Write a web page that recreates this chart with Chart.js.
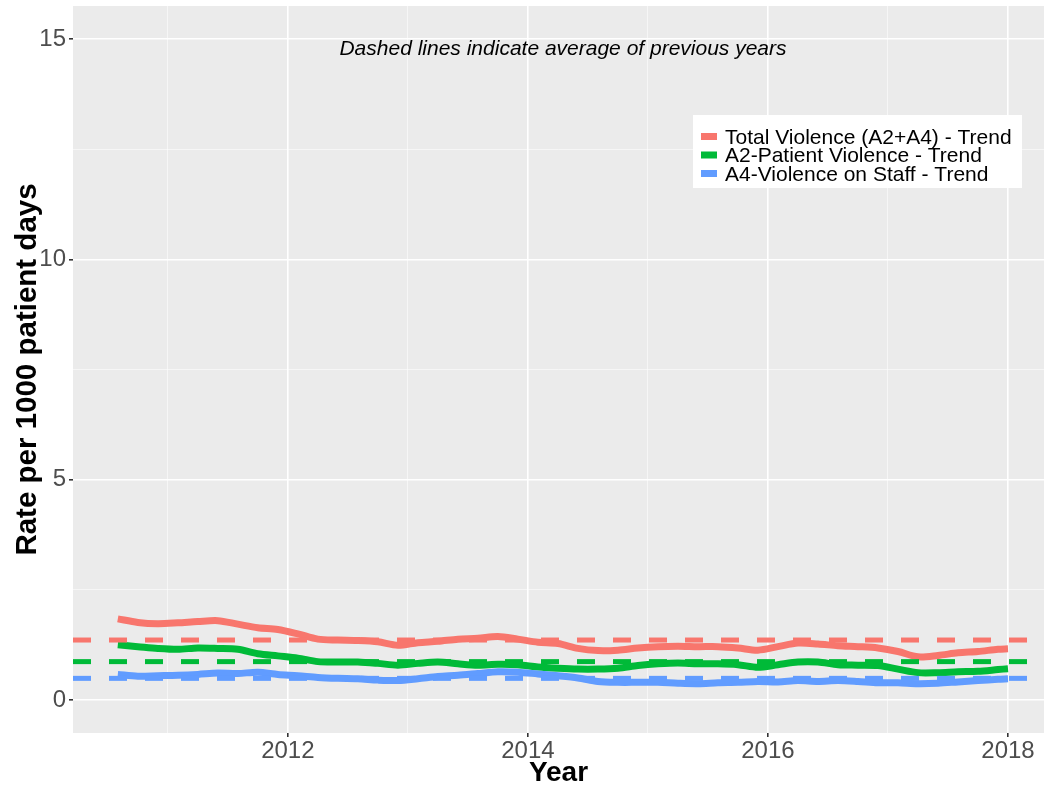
<!DOCTYPE html>
<html>
<head>
<meta charset="utf-8">
<script src="https://cdn.jsdelivr.net/npm/chart.js@4.4.1/dist/chart.umd.min.js"></script>
<style>
  html, body { margin: 0; padding: 0; background: #fff; }
  #wrap { width: 1044px; height: 788px; position: relative; }
</style>
</head>
<body>
<div id="wrap"><canvas id="chart"></canvas></div>
<script>
  'use strict';

  // sampled every two months, last point Jan 2018
  const months = [
    '2010-08', '2010-10', '2010-12', '2011-02', '2011-04', '2011-06',
    '2011-08', '2011-10', '2011-12', '2012-02', '2012-04', '2012-06',
    '2012-08', '2012-10', '2012-12', '2013-02', '2013-04', '2013-06',
    '2013-08', '2013-10', '2013-12', '2014-02', '2014-04', '2014-06',
    '2014-08', '2014-10', '2014-12', '2015-02', '2015-04', '2015-06',
    '2015-08', '2015-10', '2015-12', '2016-02', '2016-04', '2016-06',
    '2016-08', '2016-10', '2016-12', '2017-02', '2017-04', '2017-06',
    '2017-08', '2017-10', '2017-12', '2018-01'
  ];

  const totalTrend = [
    1.84, 1.76, 1.73, 1.75, 1.78, 1.80,
    1.72, 1.64, 1.60, 1.50, 1.38, 1.36,
    1.35, 1.32, 1.24, 1.30, 1.33, 1.38,
    1.40, 1.44, 1.38, 1.31, 1.28, 1.17,
    1.12, 1.13, 1.18, 1.21, 1.22, 1.21,
    1.21, 1.18, 1.13, 1.21, 1.29, 1.27,
    1.23, 1.21, 1.18, 1.10, 0.98, 1.01,
    1.07, 1.10, 1.15, 1.16
  ];

  const patientTrend = [
    1.25, 1.21, 1.17, 1.15, 1.18, 1.17,
    1.15, 1.05, 1.00, 0.95, 0.87, 0.86,
    0.86, 0.83, 0.79, 0.83, 0.86, 0.82,
    0.79, 0.81, 0.80, 0.75, 0.72, 0.70,
    0.70, 0.72, 0.78, 0.82, 0.84, 0.82,
    0.82, 0.80, 0.74, 0.80, 0.86, 0.86,
    0.80, 0.79, 0.78, 0.70, 0.62, 0.62,
    0.64, 0.65, 0.69, 0.71
  ];

  const staffTrend = [
    0.58, 0.54, 0.55, 0.56, 0.58, 0.61,
    0.60, 0.63, 0.58, 0.55, 0.51, 0.49,
    0.48, 0.45, 0.44, 0.48, 0.53, 0.56,
    0.60, 0.64, 0.63, 0.59, 0.55, 0.50,
    0.42, 0.40, 0.40, 0.40, 0.38, 0.37,
    0.39, 0.40, 0.42, 0.41, 0.44, 0.42,
    0.44, 0.42, 0.39, 0.39, 0.37, 0.38,
    0.41, 0.44, 0.47, 0.48
  ];

  // averages of previous years (dashed reference lines)
  const averages = [1.36, 0.87, 0.49];

  const seriesLabels = [
    'Total Violence (A2+A4) - Trend',
    'A2-Patient Violence - Trend',
    'A4-Violence on Staff - Trend'
  ];
  const seriesColors = ['#F8766D', '#00BA38', '#619CFF'];

  const yTicks = [0, 5, 10, 15];
  const yMinor = [2.5, 7.5, 12.5];
  const xTicks = [2012, 2014, 2016, 2018];
  const xMinor = [2011, 2013, 2015, 2017];

  const X_MIN = 2010.21;
  const X_MAX = 2018.3;
  const Y_MIN = -0.75;
  const Y_MAX = 15.75;

  const FONT = '"Liberation Sans", Arial, Helvetica, sans-serif';

  const toYear = m => {
    const [y, mo] = m.split('-').map(Number);
    return y + (mo - 1) / 12;
  };

  const points = values => months.map((m, i) => ({ x: toYear(m), y: values[i] }));

  const trendSets = [totalTrend, patientTrend, staffTrend].map((values, i) => ({
    label: seriesLabels[i],
    data: points(values),
    borderColor: seriesColors[i],
    borderWidth: 7,
    tension: 0.3,
    pointRadius: 0,
    borderJoinStyle: 'round',
    order: 10 - i
  }));

  const averageSets = averages.map((avg, i) => ({
    label: seriesLabels[i] + ' average',
    data: [{ x: X_MIN, y: avg }, { x: X_MAX, y: avg }],
    borderColor: seriesColors[i],
    borderWidth: 5,
    borderDash: [18, 18],
    pointRadius: 0,
    order: 3 - i
  }));

  const isMajor = (list, ctx) => ctx.tick && list.includes(ctx.tick.value);

  const panelBackground = {
    id: 'panelBackground',
    beforeDraw(chart) {
      const { ctx, chartArea: a } = chart;
      ctx.save();
      ctx.fillStyle = '#EBEBEB';
      ctx.fillRect(a.left, a.top, a.right - a.left, a.bottom - a.top);
      ctx.restore();
    }
  };

  const annotations = {
    id: 'annotations',
    afterDraw(chart) {
      const { ctx } = chart;
      ctx.save();

      // note above the lines
      ctx.fillStyle = '#000';
      ctx.font = 'italic 21px ' + FONT;
      ctx.textAlign = 'center';
      ctx.textBaseline = 'alphabetic';
      ctx.fillText('Dashed lines indicate average of previous years', 563, 55);

      // legend box
      ctx.fillStyle = '#fff';
      ctx.fillRect(693, 115, 329, 73);
      ctx.font = '21px ' + FONT;
      ctx.textAlign = 'left';
      ctx.textBaseline = 'middle';
      seriesLabels.forEach((label, i) => {
        const y = 138 + i * 18.5;
        ctx.fillStyle = seriesColors[i];
        ctx.fillRect(701, y - 5, 16, 7);
        ctx.fillStyle = '#000';
        ctx.fillText(label, 725, y);
      });

      ctx.restore();
    }
  };

  new Chart(document.getElementById('chart'), {
    type: 'line',
    data: { datasets: [...averageSets, ...trendSets] },
    options: {
      responsive: true,
      maintainAspectRatio: false,
      animation: false,
      events: [],
      layout: { padding: { top: 6, right: 0, left: 0, bottom: 0 } },
      plugins: {
        legend: { display: false },
        tooltip: { enabled: false }
      },
      scales: {
        x: {
          type: 'linear',
          min: X_MIN,
          max: X_MAX,
          afterFit: s => {
            s.height = 55;
            s.paddingLeft = 0;
            s.paddingRight = 0;
          },
          afterBuildTicks: s => {
            s.ticks = [...xMinor, ...xTicks].sort().map(v => ({ value: v }));
          },
          border: { display: false },
          grid: {
            color: ctx => isMajor(xTicks, ctx) ? '#FFFFFF' : 'rgba(255,255,255,0.6)',
            lineWidth: ctx => isMajor(xTicks, ctx) ? 1.6 : 0.9,
            tickColor: ctx => isMajor(xTicks, ctx) ? '#333333' : 'rgba(0,0,0,0)',
            tickLength: 4
          },
          ticks: {
            autoSkip: false,
            maxRotation: 0,
            padding: 0,
            color: '#4D4D4D',
            font: { size: 24, family: FONT },
            callback: v => xTicks.includes(v) ? String(v) : ''
          },
          title: {
            display: true,
            text: 'Year',
            color: '#000',
            font: { size: 28, weight: 'bold', family: FONT, lineHeight: 1 },
            padding: { top: 0, bottom: 1 }
          }
        },
        y: {
          type: 'linear',
          min: Y_MIN,
          max: Y_MAX,
          afterFit: s => {
            s.width = 73;
            s.paddingTop = 0;
            s.paddingBottom = 0;
          },
          afterBuildTicks: s => {
            s.ticks = [...yTicks, ...yMinor].sort((a, b) => a - b).map(v => ({ value: v }));
          },
          border: { display: false },
          grid: {
            color: ctx => isMajor(yTicks, ctx) ? '#FFFFFF' : 'rgba(255,255,255,0.6)',
            lineWidth: ctx => isMajor(yTicks, ctx) ? 1.6 : 0.9,
            tickColor: ctx => isMajor(yTicks, ctx) ? '#333333' : 'rgba(0,0,0,0)',
            tickLength: 4
          },
          ticks: {
            padding: 3,
            color: '#4D4D4D',
            font: { size: 24, family: FONT },
            callback: v => yTicks.includes(v) ? String(v) : ''
          },
          title: {
            display: true,
            text: 'Rate per 1000 patient days',
            color: '#000',
            font: { size: 29.5, weight: 'bold', family: FONT, lineHeight: 1.2 },
            padding: { top: 10, bottom: 0 }
          }
        }
      }
    },
    plugins: [panelBackground, annotations]
  });
</script>
</body>
</html>
